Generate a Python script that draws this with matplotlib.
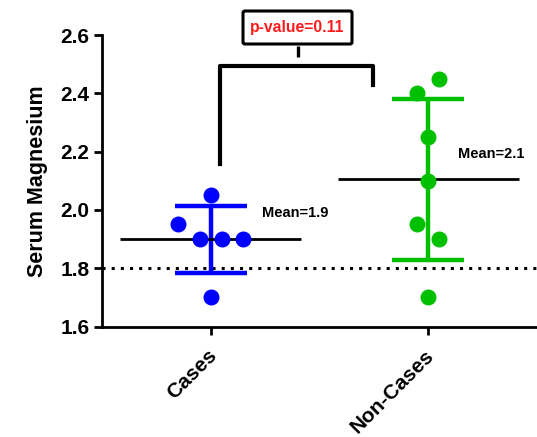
import matplotlib
matplotlib.use("Agg")
import matplotlib.pyplot as plt
import matplotlib.transforms as mtransforms
from matplotlib.patches import FancyBboxPatch

plt.rcParams['font.family'] = ['Liberation Sans', 'DejaVu Sans']
plt.rcParams['font.weight'] = 'bold'

# ---- data ----
categories = ["Cases", "Non-Cases"]
cases_values = [2.05, 1.95, 1.90, 1.90, 1.90, 1.70]
cases_offsets = [0.0, -0.15, -0.05, 0.05, 0.15, 0.0]
noncases_values = [2.45, 2.40, 2.25, 2.10, 1.95, 1.90, 1.70]
noncases_offsets = [0.05, -0.05, 0.0, 0.0, -0.05, 0.05, 0.0]
means = [1.90, 2.105]
sds = [0.115, 0.277]
mean_labels = ["Mean=1.9", "Mean=2.1"]
colors = ["#0000FF", "#00C000"]
reference_level = 1.8
p_label = "p-value=0.11"
y_ticks = [1.6, 1.8, 2.0, 2.2, 2.4, 2.6]

fig = plt.figure(figsize=(5.37, 4.37), dpi=100)
ax = fig.add_axes([102/537, 1 - 326.5/437, 1 - 102/537, (326.5 - 35)/437])
ax.set_xlim(-0.5, 1.5)
ax.set_ylim(1.6, 2.6)

groups = [(cases_values, cases_offsets), (noncases_values, noncases_offsets)]
for i, (vals, offs) in enumerate(groups):
    xs = [i + o for o in offs]
    # mean line
    ax.plot([i - 0.415, i + 0.415], [means[i], means[i]], color='black', lw=2.0,
            solid_capstyle='butt', zorder=3)
    # SD error bar
    lo, hi = means[i] - sds[i], means[i] + sds[i]
    ax.plot([i, i], [lo, hi], color=colors[i], lw=3.2, solid_capstyle='butt', zorder=2)
    for yv in (lo, hi):
        ax.plot([i - 0.166, i + 0.166], [yv, yv], color=colors[i], lw=3.2,
                solid_capstyle='butt', zorder=2)
    ax.plot(xs, vals, 'o', color=colors[i], ms=11.5, mec='none', zorder=4,
            clip_on=False)

# mean labels
ax.text(0.235, 1.99, mean_labels[0], fontsize=10.5, fontweight='bold',
        ha='left', va='center')
ax.text(1.138, 2.193, mean_labels[1], fontsize=10.5, fontweight='bold',
        ha='left', va='center')

# reference dotted line
ax.axhline(reference_level, color='black', lw=2.2, linestyle=(0, (1, 2)), zorder=1)

# bracket
ax.plot([0.041, 0.041, 0.748, 0.748], [2.157, 2.495, 2.495, 2.428], color='black',
        lw=3.0, solid_joinstyle='round', clip_on=False, zorder=5)
ax.plot([0.40, 0.40], [2.526, 2.563], color='black', lw=2.4, solid_capstyle='butt',
        clip_on=False)

# p-value box (figure pixel coords)
box = FancyBboxPatch((243/537, 1 - 44/437), (352 - 243)/537, (44 - 11)/437,
                     boxstyle="round,pad=0,rounding_size=0.004",
                     transform=fig.transFigure, fc='white', ec='black', lw=2.2)
fig.patches.append(box)
fig.text((243 + 352)/2/537, 1 - 27.5/437, p_label, color='#FF1A1A', fontsize=11.3,
         fontweight='bold', ha='center', va='center')

# axes styling
for s in ['top', 'right']:
    ax.spines[s].set_visible(False)
for s in ['left', 'bottom']:
    ax.spines[s].set_linewidth(2.0)
ax.set_yticks(y_ticks)
ax.set_yticklabels([f"{v:.1f}" for v in y_ticks], fontsize=15, fontweight='bold')
ax.set_xticks([0, 1])
ax.set_xticklabels(categories, fontsize=15, fontweight='bold', rotation=45,
                   ha='right', va='top', rotation_mode='anchor')
ax.tick_params(axis='both', direction='out', length=6, width=2.0, pad=3)
ax.tick_params(axis='x', pad=8)
shift = mtransforms.ScaledTranslation(-4/100, 0, fig.dpi_scale_trans)
for lbl in ax.get_xticklabels():
    lbl.set_transform(lbl.get_transform() + shift)
ax.set_ylabel("Serum Magnesium", fontsize=15.5, fontweight='bold', labelpad=9)

fig.savefig("out.png", dpi=100)
